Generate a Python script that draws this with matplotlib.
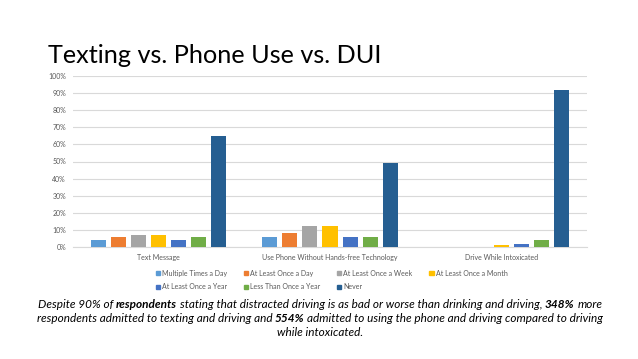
import matplotlib
matplotlib.use("Agg")
import matplotlib.pyplot as plt
from matplotlib.patches import Patch
import numpy as np

categories = ["Text Message", "Use Phone Without Hands-free Technology", "Drive While Intoxicated"]
series_names = ["Multiple Times a Day", "At Least Once a Day", "At Least Once a Week",
                "At Least Once a Month", "At Least Once a Year", "Less Than Once a Year", "Never"]
values = {
    "Multiple Times a Day": [4, 6, 0],
    "At Least Once a Day": [6, 8, 0],
    "At Least Once a Week": [7, 12, 0],
    "At Least Once a Month": [7, 12, 1],
    "At Least Once a Year": [4, 6, 2],
    "Less Than Once a Year": [6, 6, 4],
    "Never": [65, 49, 92],
}
yticks = [0, 10, 20, 30, 40, 50, 60, 70, 80, 90, 100]
title = "Texting vs. Phone Use vs. DUI"
caption_lines = [
    [("Despite 90% of", False), ("respondents", True),
     ("stating that distracted driving is as bad or worse than drinking and driving,", False),
     ("348%", True), ("more", False)],
    [("respondents admitted to texting and driving and", False), ("554%", True),
     ("admitted to using the phone and driving compared to driving", False)],
    [("while intoxicated.", False)],
]
colors = ["#5B9BD5", "#ED7D31", "#A5A5A5", "#FFC000", "#4472C4", "#70AD47", "#255E91"]

FONT = "Lato"
fig = plt.figure(figsize=(6.38, 3.59), dpi=100)
ax = fig.add_axes([73/638, 1 - 247/359, 514/638, 171/359])

x = np.arange(len(categories))
pitch = 0.117
bw = 0.088
n = len(series_names)
for i, name in enumerate(series_names):
    off = (i - (n - 1) / 2) * pitch
    ax.bar(x + off, values[name], width=bw, color=colors[i], zorder=3)

ax.set_xlim(-0.5, len(categories) - 0.5)
ax.set_ylim(0, 100)
ax.set_yticks(yticks)
ax.set_yticklabels([f"{t}%" for t in yticks], fontsize=5, color="#595959", family=FONT)
ax.set_xticks(x)
ax.set_xticklabels(categories, fontsize=5, color="#595959", family=FONT)
ax.tick_params(length=0, pad=5)
ax.tick_params(axis="x", pad=5)
ax.grid(axis="y", color="#D9D9D9", linewidth=0.8, zorder=0)
for s in ["top", "right", "left"]:
    ax.spines[s].set_visible(False)
ax.spines["bottom"].set_color("#D9D9D9")
ax.spines["bottom"].set_linewidth(0.8)

handles = [Patch(color=c, label=nm) for c, nm in zip(colors, series_names)]
order = [0, 4, 1, 5, 2, 6, 3]
leg = fig.legend([handles[i] for i in order], [series_names[i] for i in order],
                 ncol=4, loc="center", bbox_to_anchor=(0.52, 1 - 280/359),
                 frameon=False, prop={"family": FONT, "size": 5},
                 handlelength=0.6, handleheight=0.6, handletextpad=0.3,
                 columnspacing=2.4, labelspacing=1.0, borderpad=0)
for t in leg.get_texts():
    t.set_color("#595959")

fig.canvas.draw()
r = fig.canvas.get_renderer()

def width_of(s, bold, size, italic=True):
    t = fig.text(0, 0, s, fontsize=size, family=FONT, style="italic" if italic else "normal",
                 weight="bold" if bold else "normal")
    w = t.get_window_extent(r).width
    t.remove()
    return w

# title fitted to reference width
tsize = 20.0
tw = width_of(title, False, tsize, italic=False)
tsize = tsize * 334 / tw
fig.text(48/638, 1 - 62.7/359, title, fontsize=tsize, family=FONT, color="black",
         ha="left", va="baseline")

# caption rich text fitted so that the first line spans ~560 px
def line_width(line, size):
    sp = width_of("a a", False, size) - width_of("aa", False, size)
    ws = [width_of(s, b, size) for s, b in line]
    return ws, sp, sum(ws) + sp * (len(line) - 1)

csize = 9.0
_, _, w0 = line_width(caption_lines[0], csize)
csize = csize * 560 / w0
ys = [305, 319, 333]
for line, yc in zip(caption_lines, ys):
    widths, sp, total = line_width(line, csize)
    xs = 320 - total / 2
    for (s, b), w in zip(line, widths):
        fig.text(xs / 638, 1 - yc / 359, s, fontsize=csize, family=FONT, style="italic",
                 weight="bold" if b else "normal", ha="left", va="center", color="black")
        xs += w + sp

fig.savefig("out.png", dpi=100)
